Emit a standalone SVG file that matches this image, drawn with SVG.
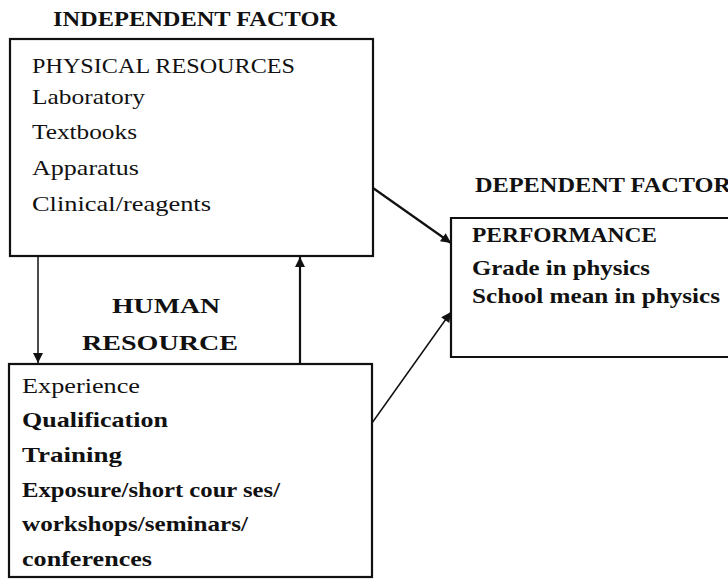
<svg xmlns="http://www.w3.org/2000/svg" width="728" height="581" viewBox="0 0 728 581">
<style>
.t{font-family:"Liberation Serif","Times New Roman",serif;font-size:21px;fill:#111}
.b{font-weight:bold}
.box{fill:none;stroke:#111;stroke-width:2.2}
.con{stroke:#111;fill:none}
</style>
<defs>
<marker id="ah" viewBox="0 0 10 10" refX="10" refY="5" markerWidth="12" markerHeight="10" markerUnits="userSpaceOnUse" orient="auto">
<path d="M0,0 L10,5 L0,10 z" fill="#111"/>
</marker>
</defs>
<rect width="728" height="581" fill="#fff"/>
<text class="t b" x="53" y="26" textLength="284" lengthAdjust="spacingAndGlyphs">INDEPENDENT FACTOR</text>
<text class="t b" x="475" y="192" textLength="256" lengthAdjust="spacingAndGlyphs">DEPENDENT FACTOR</text>
<text class="t b" x="166" y="313" text-anchor="middle" textLength="108" lengthAdjust="spacingAndGlyphs">HUMAN</text>
<text class="t b" x="160" y="350" text-anchor="middle" textLength="156" lengthAdjust="spacingAndGlyphs">RESOURCE</text>
<g id="physical">
<rect class="box" x="10" y="39" width="363" height="217"/>
<text class="t" x="32" y="73" textLength="263" lengthAdjust="spacingAndGlyphs">PHYSICAL RESOURCES</text>
<text class="t" x="32" y="104" textLength="113" lengthAdjust="spacingAndGlyphs">Laboratory</text>
<text class="t" x="32" y="139" textLength="105" lengthAdjust="spacingAndGlyphs">Textbooks</text>
<text class="t" x="32" y="175" textLength="107" lengthAdjust="spacingAndGlyphs">Apparatus</text>
<text class="t" x="32" y="211" textLength="179" lengthAdjust="spacingAndGlyphs">Clinical/reagents</text>
</g>
<g id="human">
<rect class="box" x="9" y="364" width="363" height="213"/>
<text class="t" x="22" y="393" textLength="118" lengthAdjust="spacingAndGlyphs">Experience</text>
<text class="t b" x="22" y="427" textLength="146" lengthAdjust="spacingAndGlyphs">Qualification</text>
<text class="t b" x="22" y="462" textLength="100" lengthAdjust="spacingAndGlyphs">Training</text>
<text class="t b" x="22" y="497" textLength="258" lengthAdjust="spacingAndGlyphs">Exposure/short cour ses/</text>
<text class="t b" x="22" y="531" textLength="226" lengthAdjust="spacingAndGlyphs">workshops/seminars/</text>
<text class="t b" x="22" y="566" textLength="130" lengthAdjust="spacingAndGlyphs">conferences</text>
</g>
<g id="performance">
<path class="box" d="M730,218 L451,218 L451,357 L730,357"/>
<text class="t b" x="472" y="242" textLength="185" lengthAdjust="spacingAndGlyphs">PERFORMANCE</text>
<text class="t b" x="472" y="275" textLength="178" lengthAdjust="spacingAndGlyphs">Grade in physics</text>
<text class="t b" x="472" y="303" textLength="248" lengthAdjust="spacingAndGlyphs">School mean in physics</text>
</g>
<g id="connectors">
<line class="con" x1="38" y1="256" x2="38" y2="363" stroke-width="1.5" marker-end="url(#ah)"/>
<line class="con" x1="300" y1="364" x2="300" y2="257" stroke-width="2.2" marker-end="url(#ah)"/>
<line class="con" x1="373" y1="188" x2="451" y2="243" stroke-width="2.2" marker-end="url(#ah)"/>
<line class="con" x1="372" y1="423" x2="451" y2="312" stroke-width="1.5" marker-end="url(#ah)"/>
</g>
</svg>
